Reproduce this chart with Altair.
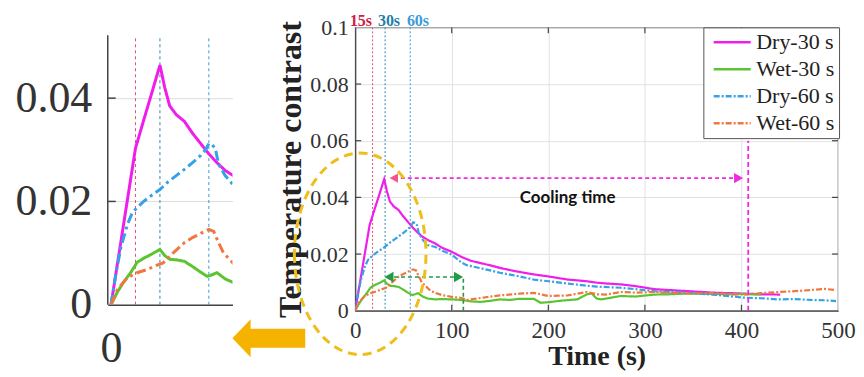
import altair as alt
import pandas as pd

# ---------------- data ----------------
series_names = ["Dry-30 s", "Wet-30 s", "Dry-60 s", "Wet-60 s"]
series_colors = ["#F01EEB", "#5CC431", "#35A2E6", "#F07840"]

dry30_t = [0, 5, 10, 15, 20, 25, 30, 33, 36, 40, 45, 50, 55, 60, 65, 70, 75, 83, 90, 100,
           110, 120, 130, 140, 150, 165, 185, 200, 220, 240, 250, 260, 275, 290, 310, 325,
           345, 360, 375, 390, 405, 420, 440]
dry30_v = [0, 0.0101, 0.0202, 0.0303, 0.0357, 0.0410, 0.0464, 0.0420, 0.0385, 0.0368, 0.0355,
           0.0332, 0.0312, 0.0292, 0.0275, 0.0260, 0.0250, 0.0237, 0.0222, 0.0208, 0.0190,
           0.0176, 0.0168, 0.0160, 0.0151, 0.0140, 0.0128, 0.0121, 0.0110, 0.0104, 0.0099,
           0.0096, 0.0093, 0.0087, 0.0076, 0.0073, 0.0069, 0.0066, 0.0063, 0.0062, 0.0060,
           0.0058, 0.0057]

wet30_t = [0, 4, 8, 12, 16, 20, 25, 30, 33, 36, 40, 45, 50, 55, 59, 62, 65, 70, 75, 83, 90,
           100, 110, 120, 130, 140, 150, 160, 170, 185, 192, 200, 215, 230, 240, 245, 250,
           255, 275, 290, 310, 325, 340, 360, 380, 400, 420]
wet30_v = [0, 0.0025, 0.0045, 0.0062, 0.0082, 0.0090, 0.0098, 0.0107, 0.0095, 0.0088, 0.0087,
           0.0084, 0.0074, 0.0063, 0.0055, 0.0058, 0.0062, 0.0050, 0.0043, 0.0040, 0.0041,
           0.0040, 0.0038, 0.0033, 0.0031, 0.0035, 0.0040, 0.0038, 0.0042, 0.0042, 0.0028,
           0.0030, 0.0036, 0.0040, 0.0058, 0.0061, 0.0043, 0.0040, 0.0052, 0.0050, 0.0057,
           0.0058, 0.0060, 0.0060, 0.0058, 0.0059, 0.0057]

dry60_t = [0, 3, 6, 10, 13, 16, 20, 25, 30, 35, 40, 45, 50, 55, 58, 60, 62, 64, 66, 70, 75,
           83, 90, 100, 110, 116, 130, 150, 170, 185, 200, 220, 240, 250, 275, 290, 310, 330,
           345, 370, 385, 403, 420, 438, 455, 472, 485, 498]
dry60_v = [0, 0.0060, 0.0110, 0.0155, 0.0178, 0.0188, 0.0200, 0.0212, 0.0223, 0.0238, 0.0250,
           0.0262, 0.0275, 0.0289, 0.0300, 0.0312, 0.0310, 0.0302, 0.0272, 0.0250, 0.0232,
           0.0225, 0.0212, 0.0198, 0.0170, 0.0160, 0.0150, 0.0134, 0.0121, 0.0110, 0.0104,
           0.0096, 0.0088, 0.0085, 0.0081, 0.0076, 0.0069, 0.0066, 0.0063, 0.0057, 0.0052,
           0.0046, 0.0044, 0.0040, 0.0041, 0.0038, 0.0037, 0.0034]

wet60_t = [0, 4, 10, 16, 22, 27, 32, 38, 45, 50, 55, 60, 63, 66, 69, 73, 78, 83, 90, 100, 110,
           116, 130, 150, 170, 185, 200, 210, 220, 240, 250, 260, 275, 290, 310, 330, 345,
           370, 390, 403, 420, 438, 455, 472, 486, 498]
wet60_v = [0, 0.0030, 0.0052, 0.0062, 0.0068, 0.0075, 0.0081, 0.0100, 0.0120, 0.0130, 0.0138,
           0.0146, 0.0142, 0.0120, 0.0100, 0.0087, 0.0070, 0.0063, 0.0055, 0.0049, 0.0045,
           0.0038, 0.0045, 0.0054, 0.0060, 0.0063, 0.0052, 0.0053, 0.0054, 0.0066, 0.0058,
           0.0057, 0.0066, 0.0064, 0.0066, 0.0063, 0.0061, 0.0062, 0.0058, 0.0057, 0.0062,
           0.0066, 0.0069, 0.0073, 0.0077, 0.0073]

# main-panel marker lines (s) and their labels
main_vline_t = [18, 31, 57]
vline_labels = ["15s", "30s", "60s"]
vline_label_t = [6, 35, 65]
vline_colors = ["#E0506E", "#2F86B0", "#3B98D6"]
vline_label_colors = ["#D0203F", "#1F7FA8", "#3A9AD9"]

# inset marker lines (s)
inset_vline_t = [15, 30, 60]

# cooling-time annotation
cool_start, cool_end, cool_level, cool_mark_t, cool_mark_top = 40, 400, 0.0468, 407, 0.060
# wet recovery annotation
wet_start, wet_end, wet_level = 33, 110, 0.0119
wet_mark_t = 112

rows = []
for name, ts, vs in [(series_names[0], dry30_t, dry30_v), (series_names[1], wet30_t, wet30_v),
                     (series_names[2], dry60_t, dry60_v), (series_names[3], wet60_t, wet60_v)]:
    for t, v in zip(ts, vs):
        rows.append({"series": name, "t": t, "v": v})
df = pd.DataFrame(rows)

SERIF = "Liberation Serif"
W_MAIN, H_MAIN = 484, 284
W_IN, H_IN = 125, 278
X_MAIN = alt.Scale(domain=[0, 500], nice=False)
Y_MAIN = alt.Scale(domain=[0, 0.1], nice=False)
X_IN = alt.Scale(domain=[-2, 74.5], nice=False)
Y_IN = alt.Scale(domain=[0, 0.0537], nice=False)

legend_def = alt.Legend(
    title=None, orient="none", legendX=349, legendY=0, padding=4,
    strokeColor="#555555", fillColor="white", labelFont=SERIF, labelFontSize=22,
    labelColor="#222222", symbolType="M-1,0H7", symbolSize=86, symbolStrokeWidth=2.5,
    rowPadding=5, labelOffset=27, labelLimit=200,
)

# ---------------- main panel ----------------
main_lines = alt.Chart(df).mark_line(strokeWidth=2.2, clip=True).encode(
    x=alt.X("t:Q", scale=X_MAIN,
            axis=alt.Axis(values=[0, 100, 200, 300, 400, 500], grid=True, gridColor="#E2E2E2",
                          ticks=False, domainColor="#444444", domainWidth=1.2,
                          labelFont=SERIF, labelFontSize=23, labelColor="#333333",
                          labelFlush=False, labelPadding=9, title="Time (s)",
                          titleFont=SERIF, titleFontSize=28, titleFontWeight="bold",
                          titleColor="#222222", titlePadding=0)),
    y=alt.Y("v:Q", scale=Y_MAIN,
            axis=alt.Axis(values=[0, 0.02, 0.04, 0.06, 0.08, 0.1], format=".2~f", grid=True,
                          gridColor="#E2E2E2", ticks=False, domainColor="#444444",
                          domainWidth=1.2, labelFont=SERIF, labelFontSize=22,
                          labelColor="#333333", labelPadding=7, labelFlush=False,
                          title="Temperature contrast", titleFont=SERIF, titleFontSize=32,
                          titleFontWeight="bold", titleColor="#222222", titlePadding=2)),
    color=alt.Color("series:N", scale=alt.Scale(domain=series_names, range=series_colors),
                    legend=legend_def),
    strokeDash=alt.StrokeDash("series:N",
                              scale=alt.Scale(domain=series_names,
                                              range=[[1, 0], [1, 0], [6, 2, 2, 2], [6, 2, 2, 2]]),
                              legend=legend_def),
)

main_layers = []
# inward ticks of the box
tick_df_x = pd.DataFrame({"t": [100, 200, 300, 400]})
tick_df_y = pd.DataFrame({"v": [0.02, 0.04, 0.06, 0.08]})
main_layers.append(alt.Chart(tick_df_x).mark_rule(color="#444444", strokeWidth=1.2).encode(
    x=alt.X("t:Q", scale=X_MAIN), y=alt.value(H_MAIN), y2=alt.value(H_MAIN - 6)))
main_layers.append(alt.Chart(tick_df_x).mark_rule(color="#444444", strokeWidth=1.2).encode(
    x=alt.X("t:Q", scale=X_MAIN), y=alt.value(0), y2=alt.value(6)))
main_layers.append(alt.Chart(tick_df_y).mark_rule(color="#444444", strokeWidth=1.2).encode(
    y=alt.Y("v:Q", scale=Y_MAIN), x=alt.value(0), x2=alt.value(6)))
main_layers.append(alt.Chart(tick_df_y).mark_rule(color="#444444", strokeWidth=1.2).encode(
    y=alt.Y("v:Q", scale=Y_MAIN), x=alt.value(W_MAIN), x2=alt.value(W_MAIN - 6)))

for t, c in zip(main_vline_t, vline_colors):
    main_layers.append(alt.Chart(pd.DataFrame({"t": [t]})).mark_rule(
        color=c, strokeWidth=1, strokeDash=[2, 2]).encode(x=alt.X("t:Q", scale=X_MAIN)))

main_layers.append(main_lines)

# cooling time arrow
cool_df = pd.DataFrame({"t0": [cool_start], "t1": [cool_end], "v": [cool_level]})
main_layers.append(alt.Chart(cool_df).mark_rule(color="#EE2BE0", strokeWidth=1.6,
                                                strokeDash=[4, 3]).encode(
    x=alt.X("t0:Q", scale=X_MAIN), x2="t1:Q", y=alt.Y("v:Q", scale=Y_MAIN)))
main_layers.append(alt.Chart(pd.DataFrame({"t": [cool_end - 3], "v": [cool_level]})).mark_point(
    shape="triangle-right", filled=True, size=110, color="#EE2BE0", opacity=1).encode(
    x=alt.X("t:Q", scale=X_MAIN), y=alt.Y("v:Q", scale=Y_MAIN)))
main_layers.append(alt.Chart(pd.DataFrame({"t": [cool_start], "v": [cool_level]})).mark_point(
    shape="triangle-left", filled=True, size=90, color="#F2558A", opacity=1).encode(
    x=alt.X("t:Q", scale=X_MAIN), y=alt.Y("v:Q", scale=Y_MAIN)))
main_layers.append(alt.Chart(pd.DataFrame({"t": [cool_mark_t], "v0": [0], "v1": [cool_mark_top]}))
                   .mark_rule(color="#EE2BE0", strokeWidth=1.8, strokeDash=[5, 3]).encode(
    x=alt.X("t:Q", scale=X_MAIN), y=alt.Y("v0:Q", scale=Y_MAIN), y2="v1:Q"))

# wet recovery double arrow
GREEN = "#239A45"
main_layers.append(alt.Chart(pd.DataFrame({"t0": [wet_start], "t1": [wet_end], "v": [wet_level]}))
                   .mark_rule(color=GREEN, strokeWidth=1.6, strokeDash=[4, 3]).encode(
    x=alt.X("t0:Q", scale=X_MAIN), x2="t1:Q", y=alt.Y("v:Q", scale=Y_MAIN)))
main_layers.append(alt.Chart(pd.DataFrame({"t": [wet_start + 2], "v": [wet_level]})).mark_point(
    shape="triangle-left", filled=True, size=110, color=GREEN, opacity=1).encode(
    x=alt.X("t:Q", scale=X_MAIN), y=alt.Y("v:Q", scale=Y_MAIN)))
main_layers.append(alt.Chart(pd.DataFrame({"t": [wet_end - 3], "v": [wet_level]})).mark_point(
    shape="triangle-right", filled=True, size=110, color=GREEN, opacity=1).encode(
    x=alt.X("t:Q", scale=X_MAIN), y=alt.Y("v:Q", scale=Y_MAIN)))
main_layers.append(alt.Chart(pd.DataFrame({"t": [wet_mark_t], "v0": [0], "v1": [wet_level]}))
                   .mark_rule(color=GREEN, strokeWidth=1.6, strokeDash=[4, 3]).encode(
    x=alt.X("t:Q", scale=X_MAIN), y=alt.Y("v0:Q", scale=Y_MAIN), y2="v1:Q"))

# texts
main_layers.append(alt.Chart(pd.DataFrame({"t": [220], "v": [0.0398], "txt": ["Cooling time"]}))
                   .mark_text(font="Lato", fontSize=17, fontWeight="bold", color="#111111").encode(
    x=alt.X("t:Q", scale=X_MAIN), y=alt.Y("v:Q", scale=Y_MAIN), text="txt:N"))
for t, lab, c in zip(vline_label_t, vline_labels, vline_label_colors):
    main_layers.append(alt.Chart(pd.DataFrame({"t": [t], "v": [0.1021], "txt": [lab]}))
                       .mark_text(font=SERIF, fontSize=16, fontWeight="bold", color=c,
                                  clip=False).encode(
        x=alt.X("t:Q", scale=X_MAIN), y=alt.Y("v:Q", scale=Y_MAIN), text="txt:N"))

# highlight ellipse and block arrow
ellipse_path = "M-0.653,0 A0.653,1 0 1,0 0.653,0 A0.653,1 0 1,0 -0.653,0 Z"
main_layers.append(alt.Chart(pd.DataFrame({"t": [5.2], "v": [0.0201]})).mark_point(
    shape=ellipse_path, size=40804, filled=False, stroke="#EDBE1C", strokeWidth=3,
    strokeDash=[9, 6], opacity=1, clip=False).encode(
    x=alt.X("t:Q", scale=X_MAIN), y=alt.Y("v:Q", scale=Y_MAIN)))
arrow_path = "M-1,0 L-0.5,-0.52 L-0.5,-0.26 L1,-0.26 L1,0.26 L-0.5,0.26 L-0.5,0.52 Z"
main_layers.append(alt.Chart(pd.DataFrame({"t": [-89.4], "v": [-0.0097]})).mark_point(
    shape=arrow_path, size=5329, filled=True, color="#F5B300", opacity=1, clip=False).encode(
    x=alt.X("t:Q", scale=X_MAIN), y=alt.Y("v:Q", scale=Y_MAIN)))

main = alt.layer(*main_layers).properties(
    width=W_MAIN, height=H_MAIN,
    view=alt.ViewBackground(stroke="#444444", strokeWidth=1.2))

# ---------------- inset panel ----------------
inset_layers = []
inset_layers.append(alt.Chart(pd.DataFrame({"v": [0.02, 0.04]})).mark_rule(
    color="#444444", strokeWidth=1.5).encode(
    y=alt.Y("v:Q", scale=Y_IN), x=alt.value(0), x2=alt.value(8)))
inset_layers.append(alt.Chart(pd.DataFrame({"v0": [0], "v1": [0.0522]})).mark_rule(
    color="#444444", strokeWidth=1.5).encode(
    y=alt.Y("v0:Q", scale=Y_IN), y2="v1:Q", x=alt.value(0)))
for t, c in zip(inset_vline_t, vline_colors):
    inset_layers.append(alt.Chart(pd.DataFrame({"t": [t], "v0": [0], "v1": [0.0516]})).mark_rule(
        color=c, strokeWidth=1, strokeDash=[3, 3]).encode(
        x=alt.X("t:Q", scale=X_IN), y=alt.Y("v0:Q", scale=Y_IN), y2="v1:Q"))
inset_layers.append(alt.Chart(df).mark_line(strokeWidth=3, clip=True).encode(
    x=alt.X("t:Q", scale=X_IN,
            axis=alt.Axis(values=[0], labelExpr="'0'", grid=False, ticks=False,
                          domainColor="#444444", domainWidth=1.5, labelFont=SERIF,
                          labelFontSize=44, labelColor="#333333", labelPadding=22,
                          labelFlush=False, title=None)),
    y=alt.Y("v:Q", scale=Y_IN,
            axis=alt.Axis(values=[0, 0.02, 0.04], format=".2~f", grid=True,
                          gridColor="#DDDDDD", ticks=False, domain=False, labelFont=SERIF,
                          labelFontSize=44, labelColor="#333333", labelPadding=16,
                          labelFlush=False, title=None)),
    color=alt.Color("series:N", scale=alt.Scale(domain=series_names, range=series_colors),
                    legend=None),
    strokeDash=alt.StrokeDash("series:N",
                              scale=alt.Scale(domain=series_names,
                                              range=[[1, 0], [1, 0], [10, 4, 3, 4], [10, 4, 3, 4]]),
                              legend=None),
))
inset = alt.layer(*inset_layers).properties(
    width=W_IN, height=H_IN, view=alt.ViewBackground(stroke="transparent"))

chart = alt.hconcat(inset, main, spacing=123, bounds="flush").resolve_scale(
    color="independent", strokeDash="independent", x="independent", y="independent"
).properties(
    padding={"left": 6, "top": 4, "right": 0, "bottom": 0},
    background="white",
)

chart.save("out.html", embed_options={"renderer": "svg", "actions": False})
